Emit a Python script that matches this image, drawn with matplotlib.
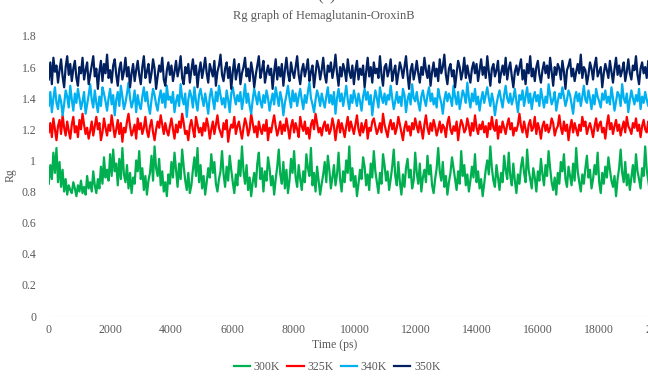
import numpy as np
import matplotlib.pyplot as plt

# Rg values, one list per temperature
rg_300 = [0.85, 0.97, 0.88, 1.05, 0.92, 1.08, 0.86, 0.99, 0.83, 0.94, 0.80, 0.88, 0.78, 0.84, 0.81, 0.79, 0.86, 0.82, 0.77, 0.84,
          0.80, 0.87, 0.79, 0.83, 0.78, 0.90, 0.82, 0.86, 0.80, 0.93, 0.84, 0.79, 0.88, 0.82, 0.96, 0.85, 1.02, 0.89, 0.94, 0.87,
          1.04, 0.90, 1.07, 0.93, 0.98, 0.84, 1.01, 0.88, 1.08, 0.91, 0.86, 0.97, 0.82, 0.92, 0.79, 0.89, 0.85, 1.00, 0.93, 1.06,
          0.88, 0.95, 0.81, 0.90, 0.78, 0.87, 0.92, 1.03, 0.87, 1.09, 0.95, 0.90, 1.01, 0.84, 0.93, 0.80, 0.86, 0.77, 0.91, 0.85,
          0.99, 0.89, 1.05, 0.94, 0.83, 0.98, 0.88, 1.07, 0.96, 0.87, 0.81, 0.92, 0.79, 0.84, 0.94, 1.02, 0.90, 1.08, 0.86, 0.97,
          0.82, 0.90, 0.78, 0.86, 0.95, 0.89, 1.04, 0.92, 0.99, 0.85, 0.80, 0.88, 0.93, 1.06, 0.91, 0.83, 0.96, 0.87, 1.03, 0.94,
          0.86, 0.79, 0.91, 0.84, 1.00, 0.90, 1.09, 0.93, 0.85, 0.97, 0.81, 0.89, 0.77, 0.86, 0.92, 0.83, 0.98, 1.05, 0.88, 0.95,
          0.80, 0.93, 0.87, 1.02, 0.95, 0.84, 0.90, 0.78, 0.88, 0.96, 1.07, 0.91, 0.85, 0.99, 0.82, 0.94, 0.79, 0.87, 1.01, 0.92,
          1.06, 0.89, 0.83, 0.97, 0.88, 0.81, 0.93, 0.86, 1.04, 0.95, 0.90, 1.08, 0.84, 0.92, 0.80, 0.96, 0.87, 0.78, 0.85, 0.91,
          0.99, 0.86, 1.03, 0.94, 0.82, 0.89, 0.97, 0.84, 0.91, 1.05, 0.88, 0.80, 0.93, 0.86, 1.00, 0.92, 1.09, 0.87, 0.95, 0.83,
          0.90, 0.77, 0.85, 0.94, 0.88, 1.02, 0.96, 0.84, 0.91, 0.81, 0.98, 0.89, 1.06, 0.93, 0.86, 0.79, 0.92, 0.85, 1.04, 0.97,
          0.87, 0.93, 0.81, 0.88, 0.96, 1.07, 0.90, 0.84, 0.99, 0.86, 0.78, 0.91, 0.83, 0.95, 1.01, 0.89, 0.94, 0.82, 0.87, 1.05,
          0.92, 0.85, 0.98, 0.80, 0.89, 0.94, 0.86, 1.03, 0.91, 0.97, 0.84, 0.79, 0.88, 0.95, 1.08, 0.93, 0.87, 0.99, 0.83, 0.90,
          0.78, 0.86, 0.92, 1.02, 0.95, 0.88, 0.81, 0.93, 0.85, 1.06, 0.90, 0.97, 0.84, 0.91, 0.80, 0.87, 0.96, 0.89, 1.04, 0.86,
          0.93, 0.82, 0.88, 0.77, 0.85, 0.94, 1.00, 0.91, 1.09, 0.95, 0.87, 0.83, 0.97, 0.89, 0.81, 0.92, 0.86, 1.03, 0.94, 0.88,
          1.05, 0.90, 0.84, 0.98, 0.87, 0.79, 0.91, 0.85, 0.96, 1.02, 0.92, 0.86, 1.07, 0.94, 0.88, 0.82, 0.95, 0.89, 0.80, 0.93,
          0.87, 1.01, 0.91, 0.84, 0.97, 0.90, 1.06, 0.95, 0.86, 0.81, 0.89, 0.78, 0.92, 0.85, 0.99, 0.93, 1.04, 0.88, 0.83, 0.96,
          0.90, 0.84, 0.98, 0.87, 1.08, 0.93, 0.86, 0.80, 0.91, 0.85, 0.95, 1.03, 0.89, 0.94, 0.82, 0.88, 0.97, 0.91, 1.05, 0.86,
          0.79, 0.92, 0.85, 0.96, 0.89, 1.02, 0.94, 0.87, 0.83, 0.90, 0.77, 0.88, 0.95, 1.07, 0.92, 0.86, 0.99, 0.84, 0.91, 0.81,
          0.89, 0.97, 0.86, 1.04, 0.93, 0.88, 0.82, 0.95, 0.90, 1.09, 0.94, 0.87, 0.80, 0.92, 0.85, 0.98, 0.91, 0.84, 0.96, 0.88]
rg_325 = [1.18, 1.24, 1.15, 1.27, 1.20, 1.13, 1.22, 1.26, 1.17, 1.29, 1.21, 1.16, 1.25, 1.19, 1.14, 1.23, 1.28, 1.18, 1.22, 1.15,
          1.26, 1.20, 1.30, 1.23, 1.17, 1.21, 1.14, 1.19, 1.25, 1.16, 1.22, 1.28, 1.20, 1.24, 1.13, 1.18, 1.27, 1.21, 1.16, 1.23,
          1.19, 1.29, 1.22, 1.15, 1.20, 1.26, 1.17, 1.24, 1.12, 1.21, 1.18, 1.25, 1.30, 1.22, 1.16, 1.19, 1.23, 1.14, 1.27, 1.20,
          1.24, 1.17, 1.21, 1.28, 1.19, 1.15, 1.22, 1.26, 1.18, 1.13, 1.20, 1.25, 1.21, 1.29, 1.23, 1.17, 1.24, 1.19, 1.16, 1.22,
          1.27, 1.20, 1.14, 1.23, 1.18, 1.25, 1.21, 1.30, 1.24, 1.17, 1.19, 1.13, 1.22, 1.26, 1.20, 1.15, 1.28, 1.23, 1.18, 1.21,
          1.16, 1.24, 1.19, 1.27, 1.22, 1.14, 1.20, 1.25, 1.17, 1.23, 1.29, 1.21, 1.18, 1.15, 1.24, 1.20, 1.26, 1.12, 1.19, 1.23,
          1.21, 1.28, 1.17, 1.22, 1.25, 1.19, 1.14, 1.21, 1.27, 1.23, 1.16, 1.20, 1.30, 1.24, 1.18, 1.22, 1.15, 1.25, 1.20, 1.17,
          1.23, 1.19, 1.26, 1.13, 1.21, 1.18, 1.24, 1.29, 1.22, 1.16, 1.20, 1.25, 1.17, 1.23, 1.19, 1.27, 1.21, 1.14, 1.22, 1.26,
          1.18, 1.24, 1.20, 1.15, 1.28, 1.22, 1.19, 1.25, 1.17, 1.21, 1.14, 1.23, 1.26, 1.20, 1.30, 1.24, 1.18, 1.21, 1.16, 1.22,
          1.25, 1.19, 1.23, 1.17, 1.20, 1.27, 1.22, 1.13, 1.21, 1.26, 1.18, 1.24, 1.20, 1.15, 1.22, 1.28, 1.19, 1.25, 1.21, 1.17,
          1.23, 1.29, 1.20, 1.16, 1.24, 1.18, 1.22, 1.26, 1.14, 1.21, 1.19, 1.25, 1.27, 1.22, 1.17, 1.20, 1.24, 1.18, 1.30, 1.23,
          1.19, 1.15, 1.22, 1.26, 1.20, 1.24, 1.17, 1.21, 1.28, 1.23, 1.18, 1.13, 1.21, 1.25, 1.19, 1.22, 1.16, 1.24, 1.20, 1.27,
          1.22, 1.18, 1.25, 1.20, 1.14, 1.23, 1.29, 1.21, 1.17, 1.24, 1.19, 1.26, 1.22, 1.16, 1.20, 1.25, 1.18, 1.23, 1.21, 1.15,
          1.24, 1.28, 1.20, 1.17, 1.22, 1.19, 1.25, 1.13, 1.21, 1.26, 1.23, 1.18, 1.20, 1.27, 1.22, 1.16, 1.24, 1.19, 1.29, 1.21,
          1.17, 1.23, 1.20, 1.25, 1.18, 1.22, 1.15, 1.24, 1.20, 1.28, 1.21, 1.19, 1.26, 1.14, 1.22, 1.18, 1.25, 1.21, 1.17, 1.23,
          1.27, 1.20, 1.24, 1.16, 1.21, 1.19, 1.23, 1.30, 1.22, 1.18, 1.25, 1.20, 1.15, 1.23, 1.26, 1.19, 1.21, 1.28, 1.17, 1.24,
          1.20, 1.14, 1.22, 1.25, 1.19, 1.23, 1.18, 1.21, 1.27, 1.24, 1.16, 1.20, 1.22, 1.29, 1.21, 1.17, 1.25, 1.19, 1.23, 1.13,
          1.21, 1.26, 1.18, 1.24, 1.20, 1.16, 1.23, 1.19, 1.28, 1.22, 1.25, 1.17, 1.21, 1.24, 1.20, 1.15, 1.22, 1.27, 1.19, 1.23,
          1.25, 1.18, 1.21, 1.14, 1.23, 1.29, 1.20, 1.24, 1.17, 1.22, 1.26, 1.19, 1.23, 1.16, 1.21, 1.25, 1.18, 1.28, 1.22, 1.20,
          1.17, 1.24, 1.21, 1.27, 1.19, 1.23, 1.15, 1.22, 1.26, 1.20, 1.18, 1.25, 1.21, 1.30, 1.23, 1.19, 1.24, 1.16, 1.22, 1.20]
rg_340 = [1.35, 1.44, 1.31, 1.40, 1.47, 1.37, 1.33, 1.42, 1.38, 1.29, 1.36, 1.45, 1.41, 1.34, 1.48, 1.39, 1.32, 1.43, 1.37, 1.46,
          1.40, 1.33, 1.38, 1.44, 1.30, 1.36, 1.42, 1.49, 1.39, 1.34, 1.45, 1.37, 1.31, 1.41, 1.35, 1.47, 1.43, 1.38, 1.32, 1.40,
          1.46, 1.36, 1.42, 1.29, 1.39, 1.44, 1.35, 1.48, 1.41, 1.33, 1.37, 1.43, 1.50, 1.40, 1.34, 1.38, 1.45, 1.31, 1.42, 1.36,
          1.33, 1.41, 1.47, 1.38, 1.44, 1.35, 1.30, 1.39, 1.46, 1.42, 1.36, 1.32, 1.40, 1.45, 1.37, 1.43, 1.34, 1.48, 1.39, 1.41,
          1.37, 1.44, 1.31, 1.38, 1.42, 1.35, 1.49, 1.40, 1.36, 1.43, 1.28, 1.39, 1.45, 1.41, 1.34, 1.47, 1.38, 1.32, 1.42, 1.46,
          1.40, 1.35, 1.43, 1.37, 1.30, 1.41, 1.46, 1.39, 1.33, 1.44, 1.38, 1.48, 1.42, 1.36, 1.40, 1.34, 1.45, 1.39, 1.31, 1.43,
          1.47, 1.41, 1.36, 1.42, 1.38, 1.44, 1.33, 1.40, 1.49, 1.37, 1.43, 1.35, 1.30, 1.39, 1.46, 1.41, 1.36, 1.44, 1.38, 1.34,
          1.42, 1.37, 1.45, 1.40, 1.32, 1.38, 1.43, 1.36, 1.47, 1.41, 1.35, 1.44, 1.39, 1.29, 1.37, 1.42, 1.48, 1.40, 1.34, 1.45,
          1.38, 1.43, 1.35, 1.41, 1.46, 1.39, 1.33, 1.42, 1.37, 1.44, 1.50, 1.40, 1.36, 1.31, 1.39, 1.45, 1.41, 1.35, 1.43, 1.38,
          1.34, 1.41, 1.47, 1.37, 1.42, 1.36, 1.44, 1.30, 1.40, 1.46, 1.38, 1.43, 1.35, 1.41, 1.48, 1.39, 1.33, 1.42, 1.37, 1.45,
          1.40, 1.35, 1.43, 1.38, 1.32, 1.41, 1.46, 1.39, 1.44, 1.36, 1.42, 1.29, 1.38, 1.45, 1.40, 1.34, 1.47, 1.41, 1.37, 1.43,
          1.36, 1.42, 1.39, 1.48, 1.40, 1.33, 1.38, 1.44, 1.37, 1.41, 1.35, 1.46, 1.42, 1.31, 1.39, 1.43, 1.36, 1.49, 1.40, 1.38,
          1.44, 1.37, 1.32, 1.41, 1.45, 1.39, 1.35, 1.42, 1.47, 1.38, 1.43, 1.36, 1.40, 1.34, 1.46, 1.41, 1.37, 1.30, 1.39, 1.44,
          1.38, 1.43, 1.40, 1.35, 1.48, 1.41, 1.36, 1.44, 1.33, 1.39, 1.45, 1.42, 1.37, 1.50, 1.40, 1.34, 1.43, 1.38, 1.46, 1.36,
          1.41, 1.32, 1.39, 1.44, 1.37, 1.42, 1.47, 1.40, 1.35, 1.43, 1.38, 1.29, 1.36, 1.41, 1.45, 1.39, 1.34, 1.42, 1.48, 1.40,
          1.37, 1.43, 1.36, 1.40, 1.46, 1.38, 1.31, 1.42, 1.39, 1.45, 1.35, 1.41, 1.47, 1.37, 1.43, 1.33, 1.40, 1.44, 1.38, 1.42,
          1.35, 1.46, 1.40, 1.34, 1.41, 1.37, 1.49, 1.42, 1.36, 1.39, 1.44, 1.32, 1.38, 1.43, 1.40, 1.47, 1.41, 1.35, 1.39, 1.45,
          1.42, 1.36, 1.30, 1.40, 1.44, 1.38, 1.43, 1.35, 1.41, 1.48, 1.39, 1.37, 1.45, 1.40, 1.33, 1.42, 1.36, 1.46, 1.41, 1.38,
          1.34, 1.43, 1.39, 1.45, 1.37, 1.41, 1.36, 1.47, 1.40, 1.32, 1.38, 1.44, 1.42, 1.35, 1.49, 1.40, 1.37, 1.43, 1.31, 1.39,
          1.45, 1.40, 1.36, 1.42, 1.38, 1.46, 1.33, 1.41, 1.37, 1.44, 1.39, 1.35, 1.43, 1.48, 1.40, 1.36, 1.42, 1.38, 1.45, 1.41]
rg_350 = [1.52, 1.63, 1.49, 1.66, 1.57, 1.61, 1.50, 1.58, 1.65, 1.54, 1.47, 1.60, 1.67, 1.55, 1.62, 1.51, 1.59, 1.64, 1.53, 1.48,
          1.60, 1.56, 1.66, 1.52, 1.58, 1.63, 1.49, 1.55, 1.61, 1.67, 1.54, 1.59, 1.46, 1.57, 1.64, 1.51, 1.62, 1.56, 1.68, 1.53,
          1.58, 1.50, 1.61, 1.65, 1.55, 1.48, 1.59, 1.63, 1.52, 1.57, 1.66, 1.54, 1.60, 1.47, 1.56, 1.62, 1.51, 1.58, 1.64, 1.55,
          1.49, 1.60, 1.67, 1.53, 1.57, 1.62, 1.50, 1.56, 1.65, 1.59, 1.46, 1.54, 1.61, 1.57, 1.66, 1.52, 1.48, 1.58, 1.63, 1.55,
          1.61, 1.51, 1.57, 1.64, 1.54, 1.59, 1.67, 1.53, 1.49, 1.60, 1.56, 1.62, 1.50, 1.58, 1.65, 1.55, 1.61, 1.47, 1.57, 1.63,
          1.53, 1.59, 1.66, 1.56, 1.50, 1.62, 1.58, 1.54, 1.64, 1.48, 1.57, 1.61, 1.68, 1.55, 1.51, 1.59, 1.63, 1.53, 1.60, 1.46,
          1.57, 1.65, 1.52, 1.58, 1.62, 1.49, 1.56, 1.60, 1.66, 1.54, 1.59, 1.51, 1.63, 1.57, 1.47, 1.55, 1.61, 1.67, 1.53, 1.58,
          1.64, 1.50, 1.56, 1.61, 1.55, 1.59, 1.46, 1.57, 1.65, 1.52, 1.60, 1.54, 1.62, 1.48, 1.58, 1.66, 1.56, 1.51, 1.63, 1.57,
          1.53, 1.60, 1.67, 1.55, 1.49, 1.58, 1.62, 1.54, 1.59, 1.65, 1.51, 1.57, 1.61, 1.47, 1.56, 1.64, 1.60, 1.52, 1.58, 1.66,
          1.55, 1.50, 1.61, 1.57, 1.63, 1.53, 1.59, 1.68, 1.56, 1.48, 1.60, 1.54, 1.62, 1.58, 1.51, 1.65, 1.57, 1.53, 1.61, 1.49,
          1.58, 1.64, 1.52, 1.59, 1.55, 1.61, 1.47, 1.57, 1.66, 1.54, 1.60, 1.50, 1.63, 1.56, 1.59, 1.53, 1.67, 1.55, 1.48, 1.60,
          1.62, 1.54, 1.58, 1.65, 1.51, 1.57, 1.61, 1.49, 1.56, 1.63, 1.59, 1.53, 1.60, 1.67, 1.55, 1.46, 1.58, 1.62, 1.52, 1.57,
          1.64, 1.56, 1.50, 1.60, 1.55, 1.66, 1.58, 1.53, 1.61, 1.48, 1.57, 1.63, 1.54, 1.59, 1.51, 1.65, 1.56, 1.60, 1.68, 1.55,
          1.49, 1.59, 1.62, 1.54, 1.58, 1.47, 1.56, 1.64, 1.60, 1.52, 1.57, 1.66, 1.53, 1.61, 1.55, 1.50, 1.59, 1.63, 1.56, 1.62,
          1.51, 1.58, 1.65, 1.55, 1.60, 1.53, 1.67, 1.57, 1.48, 1.59, 1.62, 1.54, 1.58, 1.64, 1.50, 1.56, 1.61, 1.55, 1.66, 1.52,
          1.59, 1.63, 1.54, 1.47, 1.57, 1.61, 1.55, 1.60, 1.65, 1.52, 1.58, 1.49, 1.62, 1.56, 1.67, 1.54, 1.59, 1.51, 1.60, 1.64,
          1.55, 1.50, 1.58, 1.63, 1.56, 1.61, 1.53, 1.66, 1.57, 1.48, 1.60, 1.55, 1.62, 1.59, 1.52, 1.64, 1.57, 1.46, 1.58, 1.61,
          1.65, 1.54, 1.59, 1.51, 1.57, 1.62, 1.56, 1.68, 1.53, 1.60, 1.58, 1.49, 1.55, 1.63, 1.59, 1.52, 1.61, 1.66, 1.54, 1.57,
          1.60, 1.47, 1.56, 1.62, 1.58, 1.53, 1.64, 1.57, 1.50, 1.59, 1.66, 1.55, 1.61, 1.54, 1.58, 1.63, 1.51, 1.57, 1.65, 1.56,
          1.52, 1.61, 1.58, 1.67, 1.55, 1.49, 1.59, 1.63, 1.56, 1.60, 1.53, 1.64, 1.57, 1.50, 1.62, 1.58, 1.66, 1.54, 1.60, 1.57]

series = [("300K", rg_300, "#00b050"),
          ("325K", rg_325, "#ff0000"),
          ("340K", rg_340, "#00b0f0"),
          ("350K", rg_350, "#002060")]

y_ticks = [0, 0.2, 0.4, 0.6, 0.8, 1, 1.2, 1.4, 1.6, 1.8]
y_labels = ["0", "0.2", "0.4", "0.6", "0.8", "1", "1.2", "1.4", "1.6", "1.8"]
x_ticks = list(range(0, 20001, 2000))

plt.rcParams['font.family'] = ['Liberation Serif', 'DejaVu Serif']
grey = "#595959"

fig = plt.figure(figsize=(6.48, 3.81), dpi=100)
ax = fig.add_axes([0.0753, 0.1706, 0.944, 0.735])

for name, vals, col in series:
    t = np.linspace(0, 20000, len(vals))
    ax.plot(t, vals, color=col, lw=1.6, label=name)

ax.set_xlim(0, 20000)
ax.set_ylim(0, 1.8)
ax.set_yticks(y_ticks)
ax.set_yticklabels(y_labels)
ax.set_xticks(x_ticks)
ax.tick_params(length=0, labelsize=8.5, colors=grey)
ax.tick_params(axis="y", pad=9)
ax.tick_params(axis="x", pad=6)
for s in ax.spines.values():
    s.set_visible(False)
ax.axhline(0, color="#d9d9d9", lw=0.8, zorder=0)

ax.set_ylabel("Rg", fontsize=8.5, color=grey)
ax.yaxis.set_label_coords(-0.052, 0.504)

# panel letter, mostly cut off at the top edge like in the source
fig.text(327 / 648, 1 - 4 / 381, "(c)", ha="center", va="bottom", fontsize=12, color=grey)
fig.text(324 / 648, 1 - 16 / 381, "Rg graph of Hemaglutanin-OroxinB", ha="center", va="center",
         fontsize=9, color=grey)
fig.text(335 / 648, 1 - 345 / 381, "Time (ps)", ha="center", va="center", fontsize=8.5, color=grey)

fig.legend(loc="center", bbox_to_anchor=(337 / 648, 1 - 367 / 381), ncol=4, frameon=False,
           fontsize=8.5, labelcolor=grey, handlelength=1.4, handletextpad=0.3, columnspacing=0.6)

fig.savefig("out.png", dpi=100)
